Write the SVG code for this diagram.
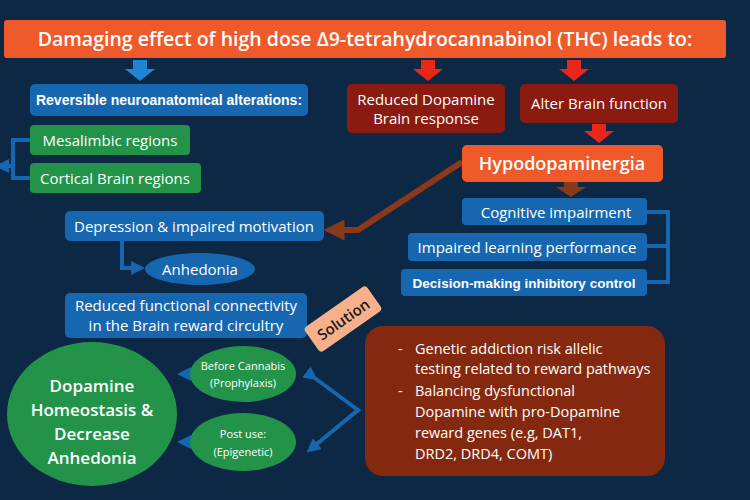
<svg xmlns="http://www.w3.org/2000/svg" width="750" height="500" viewBox="0 0 750 500">
<defs>
<style>
text{font-family:"Open Sans","Liberation Sans",sans-serif;fill:#fff;text-anchor:middle}
.b{fill:#1767b0}.g{fill:#23934a}.r{fill:#8b1a10}
.t{font-size:15px}
.bl{fill:none;stroke:#1767b0;stroke-width:4}
</style>
<marker id="ab" viewBox="0 0 10 10" refX="5" refY="5" markerWidth="3.5" markerHeight="3.5" orient="auto"><path d="M0,0L10,5L0,10z" fill="#1767b0"/></marker>
<marker id="abr" viewBox="0 0 10 10" refX="5" refY="5" markerWidth="3.5" markerHeight="3.5" orient="auto"><path d="M0,0L10,5L0,10z" fill="#8a3a1a"/></marker>
</defs>
<rect width="750" height="500" fill="#0c2845"/>
<g id="title"><rect x="4" y="20" width="722" height="38" rx="3" fill="#f0592a"/><text x="365" y="46" style="font-size:19.5px;font-weight:600">Damaging effect of high dose Δ9-tetrahydrocannabinol (THC) leads to:</text></g>
<g id="connectors">
<path d="M133,60h14v9h8l-15,12l-15,-12h8z" fill="#1f86d3"/>
<path d="M421,60h14v9h8l-15,12l-15,-12h8z" fill="#e8261a"/>
<path d="M567,60h14v9h8l-15,12l-15,-12h8z" fill="#e8261a"/>
<path d="M592,124h14v7h8l-15,12l-15,-12h8z" fill="#e8261a"/>
<path d="M564,182h14v5h8l-15,10l-15,-10h8z" fill="#8a3a1a"/>
<path d="M30,140H13V178H30" class="bl"/>
<path d="M13,166H2" class="bl" marker-end="url(#ab)"/>
<path d="M122,241V268H138" class="bl" marker-end="url(#ab)"/>
<path d="M647,212H668V282H647M668,246H647" class="bl" stroke-width="3"/>
<path d="M462,162L358,230H334" fill="none" stroke="#8a3a1a" stroke-width="6" marker-end="url(#abr)"/>
<path d="M312,376L358,410L312,448" fill="none" stroke="#1767b0" stroke-width="4" marker-start="url(#ab)" marker-end="url(#ab)"/>
<path d="M190,374H184" class="bl" marker-end="url(#ab)"/>
<path d="M190,442H184" class="bl" marker-end="url(#ab)"/>
</g>
<g id="reversible"><rect x="30" y="84" width="278" height="32" rx="5" class="b"/><text x="169" y="105" style="font-size:14px;font-weight:700;font-family:'Liberation Sans',sans-serif">Reversible neuroanatomical alterations:</text></g>
<g id="mesalimbic"><rect x="30" y="125" width="160" height="30" rx="4" class="g"/><text x="110" y="146" class="t">Mesalimbic regions</text></g>
<g id="cortical"><rect x="30" y="163" width="171" height="30" rx="4" class="g"/><text x="115" y="184" class="t">Cortical Brain regions</text></g>
<g id="depression"><rect x="65" y="211" width="259" height="30" rx="5" class="b"/><text x="194" y="232" class="t">Depression &amp; impaired motivation</text></g>
<g id="anhedonia"><ellipse cx="200" cy="269" rx="55" ry="16" class="b"/><text x="200" y="275" class="t">Anhedonia</text></g>
<g id="connectivity"><rect x="65" y="293" width="242" height="45" rx="5" class="b"/><text x="186" y="311" class="t">Reduced functional connectivity</text><text x="186" y="331" class="t">in the Brain reward circultry</text></g>
<g id="reduced-dopamine"><rect x="347" y="84" width="158" height="49" rx="5" class="r"/><text x="426" y="105" class="t">Reduced Dopamine</text><text x="426" y="124" class="t">Brain response</text></g>
<g id="alter"><rect x="520" y="84" width="158" height="39" rx="5" class="r"/><text x="599" y="109" class="t">Alter Brain function</text></g>
<g id="hypo"><rect x="462" y="145" width="201" height="37" rx="5" fill="#f0592a"/><text x="562" y="170" style="font-size:18px;font-weight:600">Hypodopaminergia</text></g>
<g id="cognitive"><rect x="462" y="198" width="185" height="27" rx="4" class="b"/><text x="556" y="218" class="t">Cognitive impairment</text></g>
<g id="learning"><rect x="408" y="233" width="239" height="28" rx="4" class="b"/><text x="527" y="253" class="t">Impaired learning performance</text></g>
<g id="decision"><rect x="401" y="269" width="246" height="27" rx="4" class="b"/><text x="524" y="288" style="font-size:13.5px;font-weight:700;font-family:'Liberation Sans',sans-serif">Decision-making inhibitory control</text></g>
<g id="solution" transform="translate(343,319) rotate(-35)"><rect x="-38" y="-15" width="76" height="30" rx="4" fill="#f7b08a"/><text x="0" y="6" style="font-size:15px;fill:#1a1a1a;font-weight:600">Solution</text></g>
<g id="solution-box"><rect x="365" y="326" width="300" height="150" rx="18" fill="#84290f"/>
<g style="font-size:14.5px;text-anchor:start"><text x="398" y="354" style="text-anchor:start">-</text><text x="415" y="354" style="text-anchor:start">Genetic addiction risk allelic</text><text x="415" y="374" style="text-anchor:start">testing related to reward pathways</text><text x="398" y="396" style="text-anchor:start">-</text><text x="415" y="396" style="text-anchor:start">Balancing dysfunctional</text><text x="415" y="417" style="text-anchor:start">Dopamine with pro-Dopamine</text><text x="415" y="438" style="text-anchor:start">reward genes (e.g,  DAT1,</text><text x="415" y="459" style="text-anchor:start">DRD2, DRD4, COMT)</text></g></g>
<g id="before"><ellipse cx="243" cy="374" rx="53" ry="28" class="g"/><text x="243" y="370" style="font-size:11px">Before Cannabis</text><text x="243" y="387" style="font-size:11px">(Prophylaxis)</text></g>
<g id="post"><ellipse cx="243" cy="442" rx="53" ry="29" class="g"/><text x="243" y="438" style="font-size:11px">Post use:</text><text x="243" y="456" style="font-size:11px">(Epigenetic)</text></g>
<g id="homeostasis"><ellipse cx="92" cy="414" rx="85" ry="72" class="g"/><g style="font-size:17px;font-weight:600"><text x="92" y="392">Dopamine</text><text x="92" y="416">Homeostasis &amp;</text><text x="92" y="440">Decrease</text><text x="92" y="464">Anhedonia</text></g></g>
</svg>
